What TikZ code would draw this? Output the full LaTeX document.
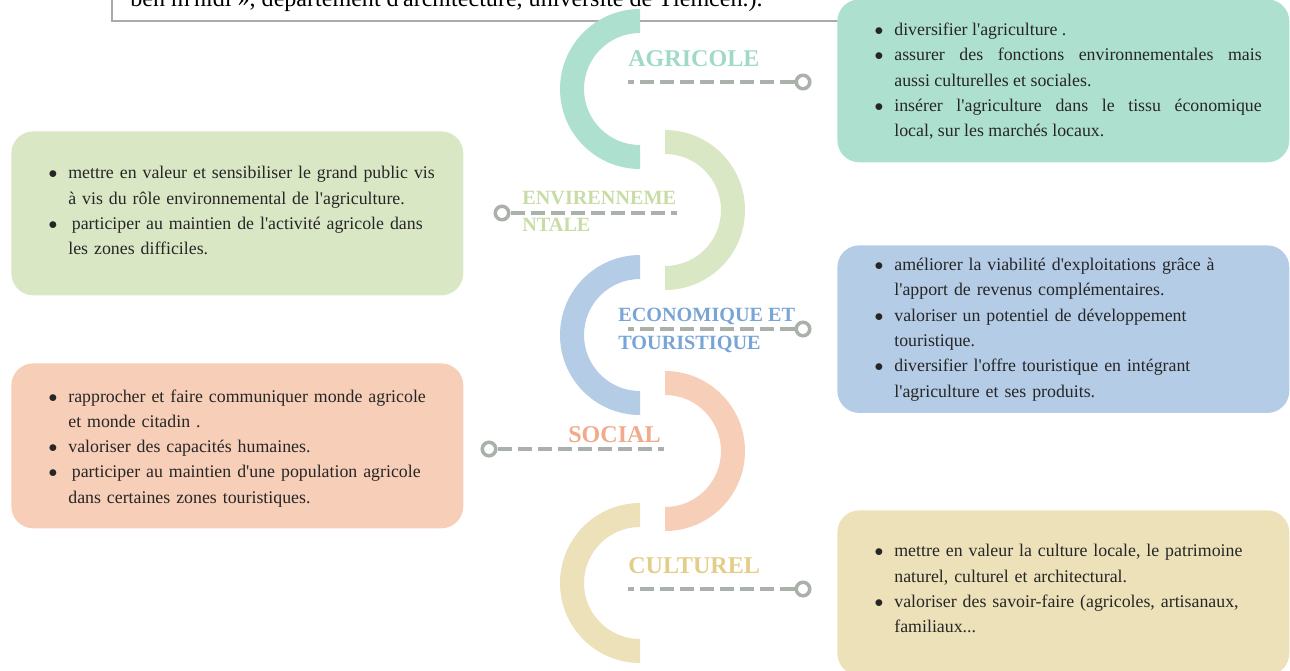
\documentclass[tikz,border=0pt]{standalone}
\usepackage{fontspec}
\setmainfont{Liberation Serif}[Ligatures=TeXOff]
\usepackage{enumitem}
\usepackage{tikz}
\definecolor{agriC}{RGB}{174,224,207}
\definecolor{agriT}{RGB}{160,218,198}
\definecolor{envC}{RGB}{218,231,197}
\definecolor{envT}{RGB}{200,220,165}
\definecolor{ecoC}{RGB}{180,204,230}
\definecolor{ecoT}{RGB}{120,164,214}
\definecolor{socC}{RGB}{247,206,183}
\definecolor{socT}{RGB}{240,170,140}
\definecolor{culC}{RGB}{236,225,184}
\definecolor{culT}{RGB}{226,206,136}
\definecolor{lineC}{RGB}{170,177,170}
\definecolor{frameC}{RGB}{170,170,170}
\setlist[itemize]{leftmargin=0.59cm, labelsep=0.22cm, rightmargin=-1cm, itemsep=0pt, topsep=0pt, parsep=0pt, partopsep=0pt, label=$\bullet$}
\tikzset{
  infobox/.style={rounded corners=0.44cm, inner xsep=0.55cm, inner ysep=0pt, text width=7.94cm,
    minimum height=#1, anchor=north west, align=left, text=black!85,
    font=\fontsize{10.15}{14.4}\selectfont},
  bigtag/.style={anchor=north west, inner sep=0pt, font=\fontsize{13.7}{16}\selectfont\bfseries},
  smalltag/.style={anchor=north west, inner sep=0pt, align=left, font=\fontsize{11.5}{15.6}\selectfont\bfseries},
  dot/.style={circle, draw=lineC, line width=2pt, fill=white, minimum size=0.27cm, inner sep=0pt},
  dashline/.style={draw=lineC, line width=2.8pt, dash pattern=on 8pt off 3.4pt}
}
\begin{document}
\begin{tikzpicture}[x=0.02cm, y=-0.02cm]
\useasboundingbox (0,0) rectangle (1290,670);
\clip (0,0) rectangle (1290,670);

\draw [frameC, line width=0.8pt] (112,-30) rectangle (900,21);
\node [anchor=base west, inner sep=0pt, font=\fontsize{13.7}{16}\selectfont] (citeText) at (130,6)
  {ben m'hidi », département d'architecture, université de Tlemcen.).};

\node [infobox=3.26cm, fill=agriC, align=justify] (agriBox) at (837,-1) {%
\begin{itemize}[rightmargin=0pt]
\item diversifier l'agriculture .
\item assurer des fonctions environnementales mais\linebreak aussi culturelles et sociales.
\item insérer l'agriculture dans le tissu économique\linebreak local, sur les marchés locaux.
\end{itemize}\vspace{6.8pt}};
\node [infobox=3.28cm, fill=envC] (envBox) at (11,131) {%
\begin{itemize}
\item mettre en valeur et sensibiliser le grand public vis\newline à vis du rôle environnemental de l'agriculture.
\item \hspace{2pt}participer au maintien de l'activité agricole dans\newline les zones difficiles.
\end{itemize}\vspace{10.2pt}};
\node [infobox=3.3cm, fill=ecoC] (ecoBox) at (837,245) {%
\begin{itemize}
\item améliorer la viabilité d'exploitations grâce à\newline l'apport de revenus complémentaires.
\item valoriser un potentiel de développement\newline touristique.
\item diversifier l'offre touristique en intégrant\newline l'agriculture et ses produits.
\end{itemize}\vspace{6.8pt}};
\node [infobox=3.3cm, fill=socC] (socBox) at (11,363) {%
\begin{itemize}
\item rapprocher et faire communiquer monde agricole\newline et monde citadin .
\item valoriser des capacités humaines.
\item \hspace{2pt}participer au maintien d'une population agricole\newline dans certaines zones touristiques.
\end{itemize}\vspace{4.5pt}};
\node [infobox=3.3cm, fill=culC] (culBox) at (837,510) {%
\begin{itemize}
\item mettre en valeur la culture locale, le patrimoine\newline naturel, culturel et architectural.
\item valoriser des savoir-faire (agricoles, artisanaux,\newline familiaux...
\end{itemize}\vspace{12pt}};

\fill [agriC] (640,9) arc (270:90:80) -- (640,145) arc (90:270:56) -- cycle;
\fill [envC] (665,130) arc (-90:90:80) -- (665,266) arc (90:-90:56) -- cycle;
\fill [ecoC] (640,255) arc (270:90:80) -- (640,391) arc (90:270:56) -- cycle;
\fill [socC] (665,371) arc (-90:90:80) -- (665,507) arc (90:-90:56) -- cycle;
\fill [culC] (640,503) arc (270:90:80) -- (640,639) arc (90:270:56) -- cycle;

\node [bigtag, text=agriT] (agriTag) at (628,50) {AGRICOLE};
\node [smalltag, text=envT] (envTag) at (522,191) {ENVIRENNEME\\NTALE};
\node [smalltag, text=ecoT] (ecoTag) at (618,308) {ECONOMIQUE ET\\TOURISTIQUE};
\node [bigtag, text=socT] (socTag) at (568,426) {SOCIAL};
\node [bigtag, text=culT] (culTag) at (628,557) {CULTUREL};

\node [dot] (agriDot) at (803,82) {};
\node [dot] (envDot) at (502,213) {};
\node [dot] (ecoDot) at (803,329) {};
\node [dot] (socDot) at (489,449) {};
\node [dot] (culDot) at (803,589) {};
\coordinate (agriEnd) at (628,82);
\coordinate (envEnd) at (677,213);
\coordinate (ecoEnd) at (628,329);
\coordinate (socEnd) at (664,449);
\coordinate (culEnd) at (628,589);
\draw [dashline] (agriDot) -- (agriEnd);
\draw [dashline] (envDot) -- (envEnd);
\draw [dashline] (ecoDot) -- (ecoEnd);
\draw [dashline] (socDot) -- (socEnd);
\draw [dashline] (culDot) -- (culEnd);
\end{tikzpicture}
\end{document}
